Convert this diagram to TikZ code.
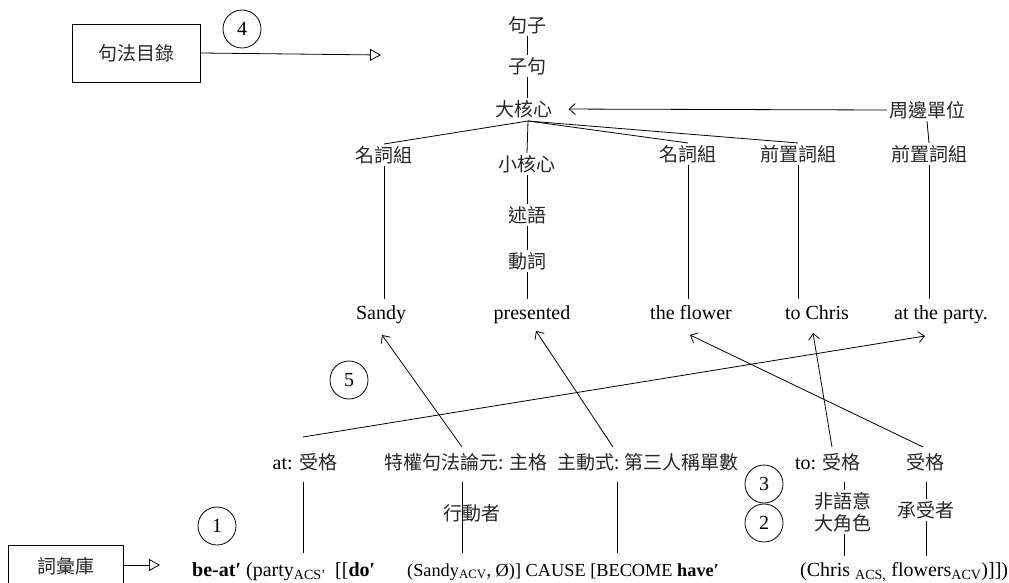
\documentclass[tikz,border=0pt]{standalone}
\usepackage{fontspec}
\setmainfont{Liberation Serif}
\newfontfamily\cjk{Noto Sans CJK TC}
\usetikzlibrary{arrows.meta}
\newcommand{\zh}[1]{{\fontsize{19}{21}\selectfont\cjk\color{black!85}#1}}
\begin{document}
\begin{tikzpicture}[x=1pt,y=-1pt,
  every node/.style={font=\fontsize{20}{22}\selectfont, inner sep=2pt},
  zh/.style={font=\fontsize{19}{21}\selectfont\cjk, text=black!85},
  word/.style={anchor=base},
  ln/.style={line width=0.8pt},
  barb/.style={ln,-{Straight Barb[length=6pt,width=11pt]}},
  tri/.style={ln,-{Triangle[open,length=11pt,width=12pt]}},
  num/.style={draw,circle,minimum size=38pt,inner sep=0pt,line width=0.8pt},
  libbox/.style={draw,line width=0.8pt,inner sep=0pt}]
\useasboundingbox (0,0) rectangle (1009,583);
\clip (0,0) rectangle (1009,583);

% ---- top part ----
\node[libbox,zh,minimum width=128pt,minimum height=58pt] (lib1) at (136,53) {句法目錄};
\node[num] (c4) at (242,29) {4};
\coordinate (t1) at (381,55);
\draw[tri] (lib1.east) -- (t1);

\node[zh] (s1) at (527,25) {句子};
\node[zh] (s2) at (527,66) {子句};
\node[zh] (s3) at (524,109) {大核心};
\draw[ln] (s1.south) -- (s2.north);
\draw[ln] (s2.south) -- (s3.north -| s2.south);

\node[zh] (per) at (927,110) {周邊單位};
\draw[barb,shorten >=14pt] (per.west) -- (s3.east);
\node[zh] (pp2) at (929,154) {前置詞組};
\draw[ln] (per.south) -- (pp2.north);

\node[zh] (np1) at (384,155) {名詞組};
\node[zh] (vc) at (527,164) {小核心};
\node[zh] (np2) at (688,154) {名詞組};
\node[zh] (pp1) at (798,154) {前置詞組};
\coordinate (hub) at (528,121);
\draw[ln] (hub) -- (np1.north);
\draw[ln] (hub) -- (vc.north);
\draw[ln] (hub) -- (np2.north);
\draw[ln] (hub) -- (pp1.north);

\node[zh] (vp) at (527,215) {述語};
\node[zh] (vb) at (527,261) {動詞};
\draw[ln] (vc.south) -- (vp.north);
\draw[ln] (vp.south) -- (vb.north);

\node[word] (w1) at (381,319) {Sandy};
\node[word] (w2) at (532,319) {presented};
\node[word] (w3) at (691,319) {the flower};
\node[word] (w4) at (817,319) {to Chris};
\node[word] (w5) at (941,319) {at the party.};

\coordinate (wtop) at (0,299);
\draw[ln] (np1.south) -- (np1.south |- wtop);
\draw[ln] (vb.south) -- (vb.south |- wtop);
\draw[ln] (np2.south) -- (np2.south |- wtop);
\draw[ln] (pp1.south) -- (pp1.south |- wtop);
\draw[ln] (pp2.south) -- (pp2.south |- wtop);

% ---- bottom part ----
\node[num] (c5) at (349,380) {5};
\node[word] (a1) at (305,469) {at: \zh{受格}};
\node[word,zh] (a2) at (466,469) {特權句法論元: 主格};
\node[word,zh] (a3) at (648,469) {主動式: 第三人稱單數};
\node[word] (a4) at (828,469) {to: \zh{受格}};
\node[word,zh] (a5) at (925,469) {受格};
\node[zh] (r2) at (472,513) {行動者};
\node[zh,align=center,font=\fontsize{19}{22}\selectfont\cjk] (r4) at (843,512) {非語意\\大角色};
\node[zh] (r5) at (926,510) {承受者};
\node[num] (c3) at (764,484) {3};
\node[num] (c2) at (764,523) {2};
\node[num] (c1) at (217,526) {1};

\node[anchor=base west] (f1) at (190,576) {\textbf{be-at′} (party\textsubscript{ACS’}};
\node[anchor=base west] (f2) at (333,576) {[[\textbf{do′}};
\node[anchor=base west,font=\fontsize{18.3}{22}\selectfont] (f3) at (405,576) {(Sandy\textsubscript{ACV}, Ø)] CAUSE [BECOME \textbf{have′}};
\node[anchor=base west] (f4) at (798,576) {(Chris \textsubscript{ACS,} flowers\textsubscript{ACV})]])};

\coordinate (e1) at (303,553);
\coordinate (e2) at (462,553);
\coordinate (e3) at (617,553);
\coordinate (e4) at (844,556);
\coordinate (e5) at (926,556);
\coordinate (ltop) at (0,482);
\draw[ln] (ltop -| e1) -- (e1);
\draw[ln] (ltop -| e2) -- (e2);
\draw[ln] (ltop -| e3) -- (e3);
\draw[ln] (ltop -| e4) -- (r4.north -| e4);
\draw[ln] (r4.south -| e4) -- (e4);
\draw[ln] (ltop -| e5) -- (r5.north -| e5);
\draw[ln] (r5.south -| e5) -- (e5);

% arrows to the words
\coordinate (b1) at (303,437);
\coordinate (b2) at (462,447);
\coordinate (b3) at (613,447);
\coordinate (b4) at (832,447);
\coordinate (b5) at (923,447);
\coordinate (tw1) at (382,335);
\coordinate (tw2) at (536,331);
\coordinate (tw3) at (690,335);
\coordinate (tw4) at (813,333);
\coordinate (tw5) at (925,336);
\draw[barb] (b1) -- (tw5);
\draw[barb] (b2) -- (tw1);
\draw[barb] (b3) -- (tw2);
\draw[barb] (b4) -- (tw4);
\draw[barb] (b5) -- (tw3);

\node[libbox,zh,minimum width=115pt,minimum height=42pt] (lib2) at (66,566) {詞彙庫};
\coordinate (t2) at (160,565);
\draw[tri] (lib2.east |- t2) -- (t2);
\end{tikzpicture}
\end{document}
